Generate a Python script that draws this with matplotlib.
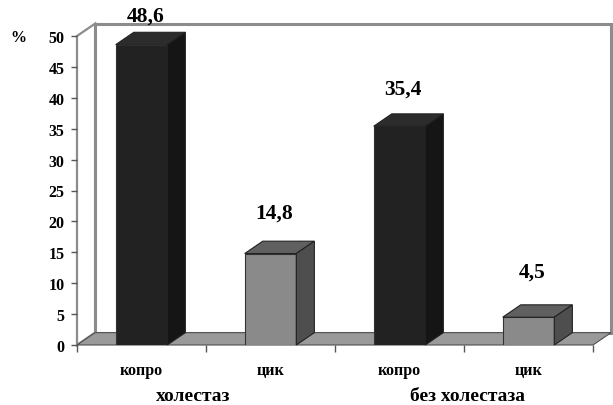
import matplotlib.pyplot as plt
from matplotlib.patches import Polygon

# data
groups = ['холестаз', 'без холестаза']
categories = ['копро', 'цик', 'копро', 'цик']
values = [48.6, 14.8, 35.4, 4.5]
value_labels = ['48,6', '14,8', '35,4', '4,5']
yticks = [0, 5, 10, 15, 20, 25, 30, 35, 40, 45, 50]

# look of each kind of bar: front, top, side
bar_colors = {
    'копро': ('#222222', '#2c2c2c', '#151515'),
    'цик': ('#8a8a8a', '#606060', '#4e4e4e'),
}
# extra lift of each value label above the bar top (value units)
label_pad = [1.1, 3.0, 2.5, 3.7]
# small horizontal nudge of the group captions (category units)
group_shift = [-0.1, 0.03]

plt.rcParams['font.family'] = ['Liberation Serif', 'DejaVu Serif']
plt.rcParams['font.weight'] = 'bold'

fig = plt.figure(figsize=(6.13, 4.06), dpi=100)
ax = fig.add_axes([77 / 613, 60 / 406, 516 / 613, 309 / 406])
ax.set_xlim(-0.5, 3.5)
ax.set_ylim(0, 50)
for s in ax.spines.values():
    s.set_visible(False)

# depth of the 3d effect, in data units
dx, dy = 0.14, 2.0
x0, x1, ytop = -0.5, 3.5, 50
wall = '#8c8c8c'

# back wall
ax.add_patch(Polygon([(x0 + dx, dy), (x1 + dx, dy), (x1 + dx, ytop + dy), (x0 + dx, ytop + dy)],
                     closed=True, fc='white', ec=wall, lw=2.2, clip_on=False, zorder=0))
# left wall
ax.add_patch(Polygon([(x0, 0), (x0, ytop), (x0 + dx, ytop + dy), (x0 + dx, dy)],
                     closed=True, fc='white', ec=wall, lw=1.6, clip_on=False, zorder=0.5))
# floor
ax.add_patch(Polygon([(x0, 0), (x1, 0), (x1 + dx, dy), (x0 + dx, dy)],
                     closed=True, fc='#9a9a9a', ec='#505050', lw=0.8, clip_on=False, zorder=1))

# bars
xs = list(range(len(values)))
hw = 0.2
for x, v, cat, lab, pad in zip(xs, values, categories, value_labels, label_pad):
    front, top, side = bar_colors[cat]
    ax.bar(x, v, width=2 * hw, color=front, edgecolor='#333333', lw=0.8, zorder=3)
    ax.add_patch(Polygon([(x - hw, v), (x + hw, v), (x + hw + dx, v + dy), (x - hw + dx, v + dy)],
                         closed=True, fc=top, ec='#222222', lw=0.8, clip_on=False, zorder=3))
    ax.add_patch(Polygon([(x + hw, 0), (x + hw + dx, dy), (x + hw + dx, v + dy), (x + hw, v)],
                         closed=True, fc=side, ec='#222222', lw=0.8, clip_on=False, zorder=3))
    ax.text(x + 0.03, v + dy + pad, lab, ha='center', va='bottom', fontsize=15.5, zorder=4)

# axes ticks
ax.set_yticks(yticks)
ax.tick_params(axis='y', length=4, width=1, color='#555555', pad=5, labelsize=11.5)
ax.set_xticks([-0.5, 0.5, 1.5, 2.5, 3.5], [''] * 5)
ax.tick_params(axis='x', which='major', length=5, width=1, color='#555555')
ax.set_xticks(xs, categories, minor=True)
ax.tick_params(axis='x', which='minor', length=0, pad=12, labelsize=11.5)

for i, g in enumerate(groups):
    cx = (xs[2 * i] + xs[2 * i + 1]) / 2 + group_shift[i]
    ax.text(cx, -0.163, g, transform=ax.get_xaxis_transform(), ha='center', va='center', fontsize=14)

fig.text(18 / 613, 1 - 38 / 406, '%', ha='center', va='center', fontsize=11.5)

fig.savefig('out.png', dpi=100)
